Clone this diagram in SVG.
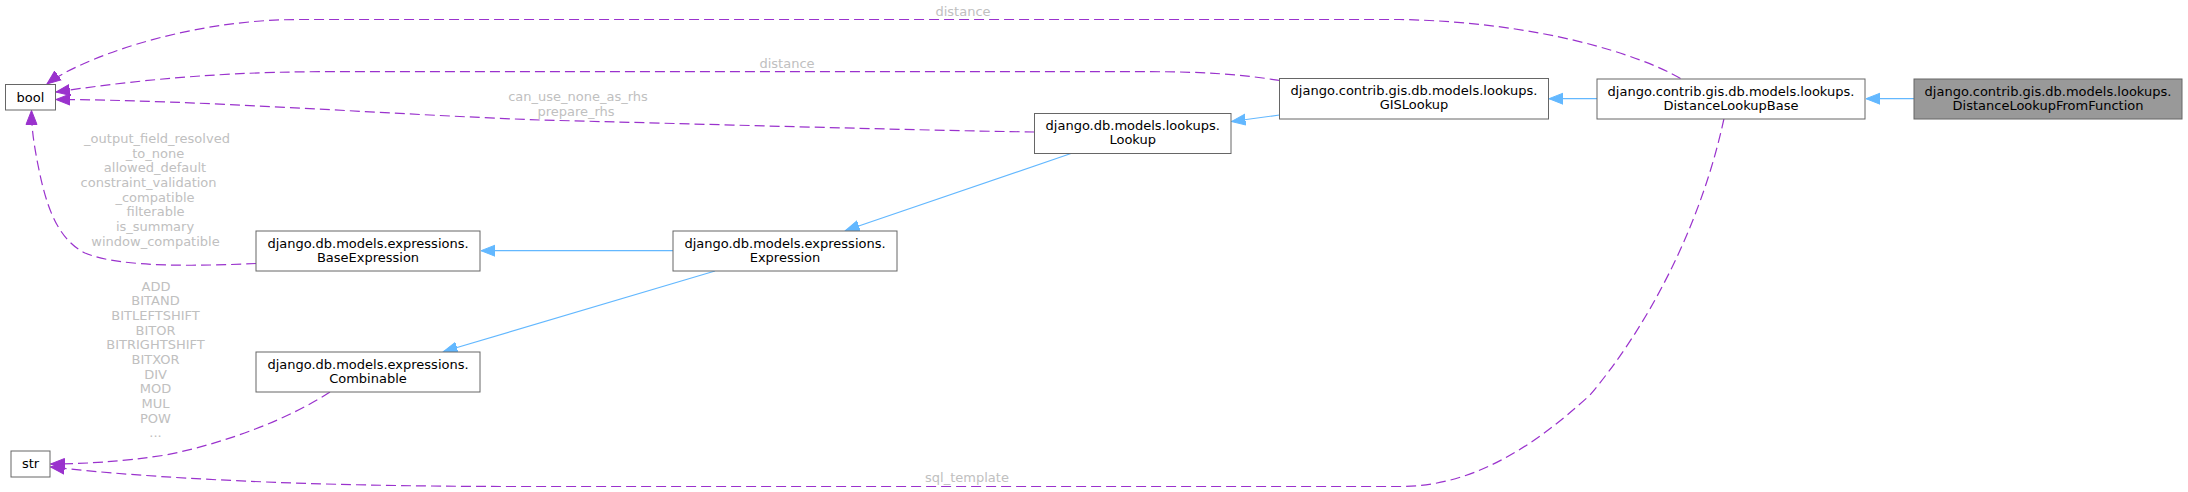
<svg xmlns="http://www.w3.org/2000/svg" width="2188" height="492" viewBox="0 0 2188 492">
<style>
.node rect{fill:#ffffff;stroke:#666666;stroke-width:1}
.node.hl rect{fill:#999999}
.node text{font-family:"DejaVu Sans",sans-serif;font-size:13px;fill:#000000;text-anchor:middle}
.inh{fill:none;stroke:#63b8ff;stroke-width:1.2}
.use{fill:none;stroke:#9a32cd;stroke-width:1.2;stroke-dasharray:10,5}
.lbl{font-family:"DejaVu Sans",sans-serif;font-size:13px;fill:#c0c0c0;text-anchor:middle}
</style>
<defs>
<marker id="ab" markerUnits="userSpaceOnUse" markerWidth="16" markerHeight="14" refX="14" refY="6" orient="auto" viewBox="0 0 16 12">
<path d="M0,0.5 L14,6 L0,11.5 z" fill="#63b8ff" stroke="#63b8ff" stroke-width="1"/>
</marker>
<marker id="ap" markerUnits="userSpaceOnUse" markerWidth="16" markerHeight="14" refX="14" refY="6" orient="auto" viewBox="0 0 16 12">
<path d="M0,0.5 L14,6 L0,11.5 z" fill="#9a32cd" stroke="#9a32cd" stroke-width="1"/>
</marker>
</defs>
<rect width="2188" height="492" fill="#ffffff"/>
<g id="connectors">
<path class="inh" d="M1914,98.7 L1866,98.7" marker-end="url(#ab)"/>
<path class="inh" d="M1597,98.7 L1549,98.7" marker-end="url(#ab)"/>
<path class="inh" d="M1279.5,115 L1231.5,121.5" marker-end="url(#ab)"/>
<path class="inh" d="M1071.7,153.3 L845.5,230.5" marker-end="url(#ab)"/>
<path class="inh" d="M673,250.7 L481,250.7" marker-end="url(#ab)"/>
<path class="inh" d="M715,271 L443.5,351.5" marker-end="url(#ab)"/>
<path class="use" d="M1680.5,78.5 C1640,55 1540,22 1400,19.5 L300,19.5 C180,19.5 75,62 47,84" marker-end="url(#ap)"/>
<text class="lbl" x="963" y="16">distance</text>
<path class="use" d="M1279.5,80.5 C1240,74 1200,71.7 1150,71.7 L320,71.7 C200,72 110,84 56,92" marker-end="url(#ap)"/>
<text class="lbl" x="787" y="67.5">distance</text>
<path class="use" d="M1034.5,132 C900,130 700,124 540,120 C380,114 200,100 56,99.5" marker-end="url(#ap)"/>
<text class="lbl" x="578" y="101">can_use_none_as_rhs</text>
<text class="lbl" x="576" y="115.7">prepare_rhs</text>
<path class="use" d="M256,263.5 C200,266 120,268 85,253 C55,238 45,200 38,165 C33,140 31.5,125 31.5,110.5" marker-end="url(#ap)"/>
<text class="lbl" x="157" y="143">_output_field_resolved</text>
<text class="lbl" x="155" y="157.7">_to_none</text>
<text class="lbl" x="155" y="172.3">allowed_default</text>
<text class="lbl" x="148.6" y="187">constraint_validation</text>
<text class="lbl" x="155" y="201.7">_compatible</text>
<text class="lbl" x="155.5" y="216.3">filterable</text>
<text class="lbl" x="155" y="231">is_summary</text>
<text class="lbl" x="155.5" y="245.7">window_compatible</text>
<path class="use" d="M330,392 C290,418 230,442 166,455 C120,462 80,464 50.5,464" marker-end="url(#ap)"/>
<text class="lbl" x="156" y="290.5">ADD</text>
<text class="lbl" x="155.5" y="305.2">BITAND</text>
<text class="lbl" x="155.5" y="319.8">BITLEFTSHIFT</text>
<text class="lbl" x="155.5" y="334.5">BITOR</text>
<text class="lbl" x="155.5" y="349.2">BITRIGHTSHIFT</text>
<text class="lbl" x="155.5" y="363.8">BITXOR</text>
<text class="lbl" x="155.5" y="378.5">DIV</text>
<text class="lbl" x="155.5" y="393.2">MOD</text>
<text class="lbl" x="155.5" y="407.8">MUL</text>
<text class="lbl" x="155.5" y="422.5">POW</text>
<text class="lbl" x="155.5" y="437.2">...</text>
<path class="use" d="M1724,118.5 C1700,230 1645,330 1590,395 C1530,450 1470,486.5 1400,486.5 L520,486.5 C300,486.5 150,478 50.5,467" marker-end="url(#ap)"/>
<text class="lbl" x="967" y="482">sql_template</text>
</g>
<g id="node-bool" class="node"><rect x="5.5" y="84.5" width="50" height="25.5"/><text x="30.5" y="101.5">bool</text></g>
<g id="node-str" class="node"><rect x="11" y="451" width="39" height="26"/><text x="30.5" y="468">str</text></g>
<g id="node-BaseExpression" class="node"><rect x="256" y="231" width="224" height="40"/><text x="368" y="247.5">django.db.models.expressions.</text><text x="368" y="261.5">BaseExpression</text></g>
<g id="node-Combinable" class="node"><rect x="256" y="352" width="224" height="40"/><text x="368" y="368.5">django.db.models.expressions.</text><text x="368" y="382.5">Combinable</text></g>
<g id="node-Expression" class="node"><rect x="673" y="231" width="224" height="40"/><text x="785" y="247.5">django.db.models.expressions.</text><text x="785" y="261.5">Expression</text></g>
<g id="node-Lookup" class="node"><rect x="1034.5" y="113.5" width="196.5" height="40"/><text x="1132.7" y="130">django.db.models.lookups.</text><text x="1132.7" y="144">Lookup</text></g>
<g id="node-GISLookup" class="node"><rect x="1279.5" y="78.5" width="269" height="40.5"/><text x="1414" y="95">django.contrib.gis.db.models.lookups.</text><text x="1414" y="109">GISLookup</text></g>
<g id="node-DistanceLookupBase" class="node"><rect x="1597" y="79" width="268" height="40"/><text x="1731" y="95.5">django.contrib.gis.db.models.lookups.</text><text x="1731" y="109.5">DistanceLookupBase</text></g>
<g id="node-DistanceLookupFromFunction" class="node hl"><rect x="1914" y="79" width="268" height="40"/><text x="2048" y="95.5">django.contrib.gis.db.models.lookups.</text><text x="2048" y="109.5">DistanceLookupFromFunction</text></g>
</svg>
